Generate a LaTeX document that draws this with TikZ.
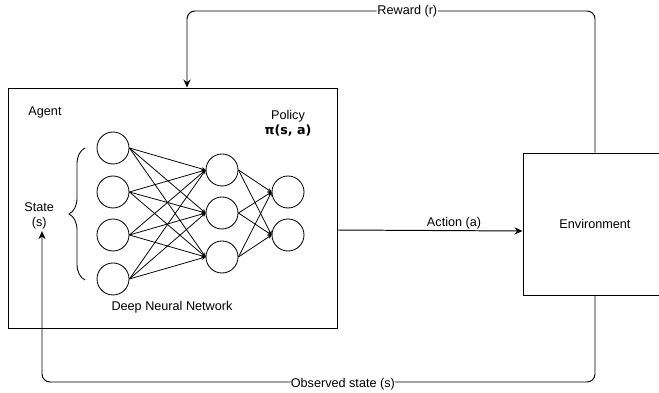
\documentclass[tikz,border=0pt]{standalone}
\usepackage{fontspec}
\setmainfont{Liberation Sans}
\newfontfamily\pifont{DejaVu Sans}
\usepackage{tikz}
\usetikzlibrary{arrows.meta,positioning,calc,decorations.pathreplacing}
\tikzset{
    neuron/.style={draw, circle, minimum size=0.8cm, inner sep=0pt, line width=0.6pt},
    blockbox/.style={draw, line width=0.7pt, align=center, font=\fontsize{9}{11}\selectfont},
    lbl/.style={font=\fontsize{9}{11}\selectfont, align=center, inner sep=1pt},
    wire/.style={line width=0.55pt, -{Stealth[length=1mm, width=1mm]}},
    fbarrow/.style={line width=0.7pt, rounded corners=0.2cm, -{Stealth[length=2mm, width=1.8mm]}},
}

\begin{document}
\begin{tikzpicture}
    \useasboundingbox (0,0) rectangle (16.475,-9.825);

    % boxes
    \node[blockbox, minimum width=8.225cm, minimum height=6cm] (agent) at (4.3125,-5.2) {};
    \node[blockbox, minimum width=3.6cm, minimum height=3.55cm] (env) at (14.875,-5.6) {Environment};

    \node[lbl] (agentlbl) at (1.125,-2.8) {Agent};
    \node[lbl] (state) at (0.98,-5.4) {State\\(s)};
    \node[lbl] (policy) at (7.2,-2.9) {Policy};
    \node[lbl, font=\pifont\bfseries\fontsize{9}{11}\selectfont] (pi) at (7.2,-3.275) {π(s, a)};
    \node[lbl] (dnn) at (4.3,-7.675) {Deep Neural Network};

    % network
    \node[neuron] (i1) at (2.825,-3.7) {};
    \node[neuron] (i2) at (2.825,-4.8) {};
    \node[neuron] (i3) at (2.825,-5.875) {};
    \node[neuron] (i4) at (2.825,-6.975) {};
    \node[neuron] (h1) at (5.55,-4.25) {};
    \node[neuron] (h2) at (5.55,-5.325) {};
    \node[neuron] (h3) at (5.55,-6.425) {};
    \node[neuron] (o1) at (7.2,-4.8) {};
    \node[neuron] (o2) at (7.2,-5.875) {};

    \foreach \a in {1,...,4}
        \foreach \b in {1,2,3}
            \draw[wire] (i\a.east) -- (h\b.west);
    \foreach \a in {1,2,3}
        \foreach \b in {1,2}
            \draw[wire] (h\a.east) -- (o\b.west);

    \draw[line width=0.6pt, decorate,
          decoration={brace, amplitude=0.4cm}] (2.125,-7) -- (2.125,-3.7);

    % feedback loop
    \coordinate (obsx) at (1.05,0);
    \draw[fbarrow] (env.north) |- (4.675,-0.275)
        node[lbl, fill=white, inner sep=0.5pt, pos=0.73] (reward) {Reward (r)}
        -- ([xshift=0.3625cm]agent.north);
    \draw[fbarrow] (env.south) |- (1.05,-9.55)
        node[lbl, fill=white, inner sep=0.5pt, pos=0.728, yshift=-0.05cm] (obs) {Observed state (s)}
        -- (state.south -| obsx);
    \draw[fbarrow] ([yshift=-0.55cm]agent.east) -- ([yshift=-0.175cm]env.west)
        node[lbl, above, pos=0.63] (action) {Action (a)};
\end{tikzpicture}
\end{document}
